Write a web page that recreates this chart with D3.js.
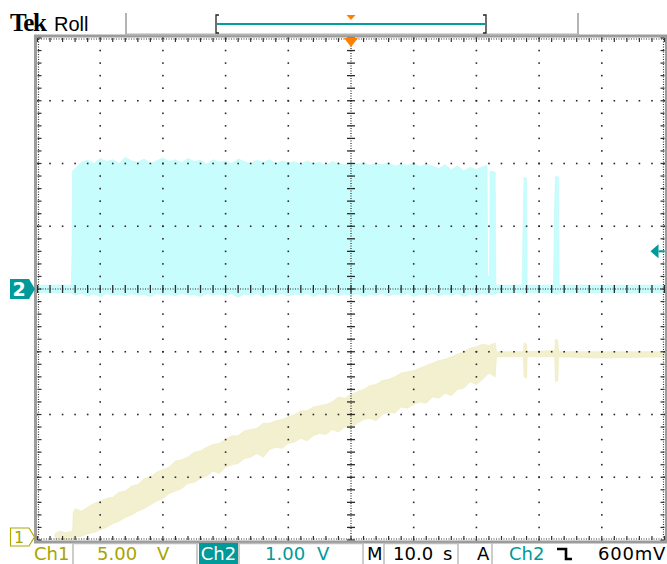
<!DOCTYPE html>
<html lang="en">
<head>
<meta charset="UTF-8">
<title>Tek Roll capture</title>
<script src="https://d3js.org/d3.v7.min.js"></script>
<style>
    body { margin: 0; background: #fff; }
    svg { display: block; }
    .status { font-family: "DejaVu Sans", sans-serif; font-size: 18px; }
</style>
</head>
<body>
<svg width="667" height="564"></svg>
<script>
// channel settings
const ch1VoltsPerDiv = 5;      // 5.00 V
const ch2VoltsPerDiv = 1;      // 1.00 V
const ch1Position = -4;        // ground marker at bottom of screen (divisions)
const ch2Position = 0;         // ground marker at centre
const timeRange = [0, 100];    // 10 divisions x 10.0 s
const triggerLevel = 0.6;      // Ch2 falling edge, 600mV
const triggerTime = 50;

// Ch1 envelope: [time s, max V, min V]
const ch1Trace = [
    [2.8, 0.5, 0.0], [3.5, 0.7, 0.0], [4.5, 0.6, 0.0], [5.6, 0.7, 0.0],
    [5.7, 2.2, 0.1], [6, 2.5, 0.2], [7, 2.3, 0.3], [8, 2.6, 0.5], [9, 2.9, 0.6],
    [10, 3.1, 0.8], [11, 3.3, 1.0], [12, 3.4, 1.3], [13, 3.8, 1.5], [14, 3.9, 1.8],
    [15, 4.3, 2.0], [16, 4.4, 2.3], [17, 4.9, 2.5], [18, 5.0, 2.8], [19, 5.4, 3.1],
    [20, 5.6, 3.3], [21, 5.8, 3.7], [22, 6.3, 3.9], [23, 6.4, 4.1], [24, 6.6, 4.5],
    [25, 7.0, 4.6], [26, 7.1, 4.9], [27, 7.4, 5.1], [28, 7.6, 5.5], [29, 7.7, 5.3],
    [30, 8.0, 5.8], [31, 8.3, 6.0], [32, 8.3, 6.1], [33, 8.7, 6.5], [34, 8.8, 6.6],
    [35, 8.9, 6.9], [36, 9.3, 6.6], [37, 9.3, 7.2], [38, 9.5, 7.4], [39, 9.6, 7.3],
    [40, 9.8, 7.7], [41, 10.0, 7.8], [42, 10.3, 8.1], [43, 10.3, 7.9], [44, 10.6, 8.3],
    [45, 10.7, 8.5], [46, 10.8, 8.4], [47, 11.0, 8.8], [48, 11.4, 8.6], [49, 11.3, 9.0],
    [50, 11.6, 8.9], [51, 11.8, 9.3], [52, 12.0, 9.6], [53, 12.3, 9.7], [54, 12.4, 9.5],
    [55, 12.7, 10.0], [56, 12.8, 10.2], [57, 13.0, 10.1], [58, 13.3, 10.6], [59, 13.4, 10.5],
    [60, 13.5, 10.8], [61, 13.7, 11.0], [62, 13.9, 10.9], [63, 14.1, 11.4], [64, 14.3, 11.3],
    [65, 14.4, 11.7], [66, 14.6, 11.5], [67, 14.8, 12.0], [68, 15.0, 12.1], [69, 15.3, 12.6],
    [70, 15.4, 12.4], [71, 15.6, 12.8], [72, 15.5, 13.3], [73, 15.7, 13.0],
    [73.2, 15.0, 14.6], [77.5, 15.0, 14.6], [77.6, 15.7, 13.0], [78.0, 15.6, 12.9],
    [78.1, 15.0, 14.6], [82.5, 15.1, 14.6], [82.6, 16.0, 12.6], [83.0, 15.9, 12.7],
    [83.1, 15.0, 14.6], [90, 15.0, 14.5], [100, 15.0, 14.6]
];

// Ch2 envelope: [time s, max V, min V]
const ch2Trace = [
    [0, 0.06, -0.06], [5.4, 0.06, -0.06], [5.5, 0.6, -0.08], [5.6, 1.88, -0.08],
    [6, 1.92, -0.1], [7, 2.02, -0.07], [8, 2.05, -0.11], [9, 2.0, -0.08], [10, 2.08, -0.12],
    [11, 2.03, -0.07], [12, 2.06, -0.1], [13, 2.0, -0.08], [14, 2.1, -0.11], [15, 2.04, -0.07],
    [16, 2.02, -0.1], [17, 2.07, -0.09], [18, 2.0, -0.12], [19, 2.04, -0.07], [20, 2.09, -0.1],
    [21, 2.03, -0.08], [22, 2.06, -0.11], [23, 2.01, -0.07], [24, 2.08, -0.1], [25, 2.03, -0.09],
    [26, 2.05, -0.12], [27, 1.99, -0.07], [28, 2.06, -0.1], [29, 2.02, -0.08], [30, 2.04, -0.11],
    [31, 2.0, -0.07], [32, 2.07, -0.13], [33, 2.03, -0.08], [34, 2.0, -0.1], [35, 2.05, -0.07],
    [36, 2.02, -0.12], [37, 2.06, -0.08], [38, 2.0, -0.1], [39, 2.04, -0.07], [40, 2.01, -0.11],
    [41, 2.03, -0.08], [42, 1.99, -0.1], [43, 2.04, -0.07], [44, 2.0, -0.12], [45, 2.02, -0.08],
    [46, 1.97, -0.1], [47, 2.03, -0.07], [48, 2.0, -0.11], [49, 1.98, -0.08], [50, 2.02, -0.1],
    [51, 1.99, -0.07], [52, 2.01, -0.12], [53, 1.97, -0.08], [54, 2.0, -0.1], [55, 1.98, -0.07],
    [56, 2.01, -0.11], [57, 1.96, -0.08], [58, 1.99, -0.1], [59, 1.97, -0.07], [60, 2.0, -0.12],
    [61, 1.95, -0.08], [62, 1.99, -0.1], [63, 1.96, -0.07], [64, 1.92, -0.11], [65, 1.98, -0.08],
    [66, 1.9, -0.1], [67, 1.96, -0.07], [68, 1.88, -0.12], [69, 1.94, -0.08], [70, 1.9, -0.1],
    [71, 1.95, -0.07], [71.7, 1.97, -0.09], [71.8, 0.2, -0.08], [72.1, 0.2, -0.08],
    [72.2, 1.88, -0.09], [73.0, 1.86, -0.08], [73.1, 0.06, -0.06], [77.3, 0.06, -0.06],
    [77.45, 1.0, -0.08], [77.6, 1.78, -0.08], [78.0, 1.76, -0.08], [78.1, 0.06, -0.06],
    [82.3, 0.06, -0.06], [82.45, 1.2, -0.08], [82.6, 1.8, -0.08], [83.1, 1.78, -0.08],
    [83.2, 0.06, -0.06], [100, 0.06, -0.06]
];

// status bar readouts
const ch1Label = ["Ch1", "5.00", "V"];
const ch2Label = ["Ch2", "1.00", "V"];
const timeLabel = ["M", "10.0", "s"];
const trigLabel = ["A", "Ch2", "600mV"];

const svg = d3.select("svg");
const L = 37.5, R = 664.5, T = 38, B = 540;

const x = d3.scaleLinear().domain(timeRange).range([L, R]);
const gx = d3.scaleLinear().domain([0, 10]).range([L, R]);
const yDiv = d3.scaleLinear().domain([-4, 4]).range([B, T]);
const y1 = v => yDiv(v / ch1VoltsPerDiv + ch1Position);
const y2 = v => yDiv(v / ch2VoltsPerDiv + ch2Position);

// traces
const area1 = d3.area().x(d => x(d[0])).y0(d => y1(d[2])).y1(d => y1(d[1]));
const area2 = d3.area().x(d => x(d[0])).y0(d => y2(d[2])).y1(d => y2(d[1]));

svg.append("path").datum(ch1Trace).attr("d", area1)
    .attr("fill", "#f3f0cf").attr("stroke", "#eeeabf").attr("stroke-width", 0.6);
svg.append("path").datum(ch2Trace).attr("d", area2)
    .attr("fill", "#c8fdfd").attr("stroke", "#bdf8f8").attr("stroke-width", 0.6);

// graticule
const grat = svg.append("g").attr("fill", "#2a2a2a");
const minorY = d3.range(0, 41).map(j => -4 + j / 5);
const minorX = d3.range(0, 51).map(i => i / 5);

[1, 2, 3, 4, 6, 7, 8, 9].forEach(k => {
    grat.selectAll(null).data(minorY).join("rect")
        .attr("x", gx(k) - 0.8).attr("y", d => yDiv(d) - 0.8)
        .attr("width", 1.6).attr("height", 1.6);
});
[-3, -2, -1, 1, 2, 3].forEach(m => {
    grat.selectAll(null).data(minorX).join("rect")
        .attr("x", d => gx(d) - 0.8).attr("y", yDiv(m) - 0.8)
        .attr("width", 1.6).attr("height", 1.6);
});

// centre cross
const cx = gx(5), cy = yDiv(0);
grat.append("line").attr("x1", L).attr("x2", R).attr("y1", cy).attr("y2", cy)
    .attr("stroke", "#2a2a2a").attr("stroke-width", 1.2).attr("stroke-dasharray", "1,1.5");
grat.append("line").attr("x1", cx).attr("x2", cx).attr("y1", T).attr("y2", B)
    .attr("stroke", "#2a2a2a").attr("stroke-width", 1.2).attr("stroke-dasharray", "1,1.5");
grat.selectAll(null).data(minorX).join("line")
    .attr("x1", d => gx(d)).attr("x2", d => gx(d)).attr("y1", cy - 4).attr("y2", cy + 4)
    .attr("stroke", "#2a2a2a").attr("stroke-width", 1.3);
grat.selectAll(null).data(minorY).join("line")
    .attr("y1", d => yDiv(d)).attr("y2", d => yDiv(d)).attr("x1", cx - 4).attr("x2", cx + 4)
    .attr("stroke", "#2a2a2a").attr("stroke-width", 1.3);

// frame with edge ticks
svg.append("rect").attr("x", L - 2).attr("y", T - 2)
    .attr("width", R - L + 4).attr("height", B - T + 4)
    .attr("fill", "none").attr("stroke", "#9c9c9c").attr("stroke-width", 3);
const edge = svg.append("g").attr("stroke", "#333").attr("stroke-width", 1.2);
[[L + 1, T + 1, R - 1, T + 1], [L + 1, B - 1, R - 1, B - 1],
 [L + 1, T + 1, L + 1, B - 1], [R - 1, T + 1, R - 1, B - 1]].forEach(s => {
    edge.append("line").attr("x1", s[0]).attr("y1", s[1]).attr("x2", s[2]).attr("y2", s[3])
        .attr("stroke-dasharray", "1,1.5");
});
edge.selectAll(null).data(minorX).join("line")
    .attr("x1", d => gx(d)).attr("x2", d => gx(d)).attr("y1", T).attr("y2", T + 4);
edge.selectAll(null).data(minorX).join("line")
    .attr("x1", d => gx(d)).attr("x2", d => gx(d)).attr("y1", B).attr("y2", B - 4);
edge.selectAll(null).data(minorY).join("line")
    .attr("y1", d => yDiv(d)).attr("y2", d => yDiv(d)).attr("x1", L).attr("x2", L + 4);
edge.selectAll(null).data(minorY).join("line")
    .attr("y1", d => yDiv(d)).attr("y2", d => yDiv(d)).attr("x1", R).attr("x2", R - 4);

// trigger position marker
const tx = x(triggerTime);
svg.append("path").attr("d", `M${tx - 7},${T}L${tx + 7},${T}L${tx},${T + 9}Z`).attr("fill", "#ff7f00");

// trigger level marker (right edge)
const ty = y2(triggerLevel);
svg.append("path").attr("d", `M${R - 14},${ty}L${R - 6},${ty - 7}L${R - 6},${ty + 7}Z`).attr("fill", "#009a9a");
svg.append("line").attr("x1", R - 6).attr("x2", R).attr("y1", ty).attr("y2", ty)
    .attr("stroke", "#009a9a").attr("stroke-width", 2);

// channel ground markers
const g2 = y2(0);
svg.append("path").attr("d", `M10,${g2 - 10}L29,${g2 - 10}L35,${g2}L29,${g2 + 10}L10,${g2 + 10}Z`)
    .attr("fill", "#009a9a");
svg.append("text").attr("x", 19).attr("y", g2 + 7).attr("text-anchor", "middle")
    .attr("font-family", "DejaVu Sans").attr("font-weight", "bold").attr("font-size", 19)
    .attr("fill", "#fff").text("2");
const g1 = Math.min(y1(0), B - 3);
svg.append("path").attr("d", `M10.5,${g1 - 9}L29,${g1 - 9}L34.5,${g1}L29,${g1 + 9}L10.5,${g1 + 9}Z`)
    .attr("fill", "#fff").attr("stroke", "#b0aa00").attr("stroke-width", 1.2);
svg.append("text").attr("x", 19).attr("y", g1 + 6).attr("text-anchor", "middle")
    .attr("font-family", "DejaVu Sans").attr("font-size", 16)
    .attr("fill", "#a8a400").text("1");

// header
svg.append("text").attr("x", 10).attr("y", 31)
    .attr("font-family", "Liberation Serif").attr("font-weight", "bold").attr("font-size", 25)
    .attr("letter-spacing", -1.2).attr("fill", "#000").text("Tek");
svg.append("text").attr("x", 54).attr("y", 31)
    .attr("font-family", "Liberation Sans").attr("font-size", 20).attr("fill", "#000").text("Roll");
svg.append("path").attr("d", "M126,13V34.5H578V13")
    .attr("fill", "none").attr("stroke", "#b4b4b4").attr("stroke-width", 2);
svg.append("path").attr("d", "M219,15H216V33H219M483,15H486V33H483")
    .attr("fill", "none").attr("stroke", "#222").attr("stroke-width", 1.3);
svg.append("line").attr("x1", 217).attr("x2", 485).attr("y1", 24).attr("y2", 24)
    .attr("stroke", "#00a0a0").attr("stroke-width", 2);
svg.append("path").attr("d", `M${tx - 4.5},15L${tx + 4.5},15L${tx},20Z`).attr("fill", "#ff7f00");

// status bar
const bar = svg.append("g").attr("class", "status");
const boxes = [[73, 197], [239, 363], [384, 458]];
boxes.forEach(b => {
    bar.append("path").attr("d", `M${b[0]},564V543.5H${b[1]}V564`)
        .attr("fill", "none").attr("stroke", "#bcbcbc").attr("stroke-width", 1.5);
});
bar.append("line").attr("x1", 492).attr("x2", 492).attr("y1", 543).attr("y2", 564)
    .attr("stroke", "#bcbcbc").attr("stroke-width", 1.5);
bar.append("rect").attr("x", 199).attr("y", 543).attr("width", 39).attr("height", 21).attr("fill", "#009a9a");

bar.append("text").attr("x", 34).attr("y", 560).attr("fill", "#a8a400").text(ch1Label[0]);
bar.append("text").attr("x", 97).attr("y", 560).attr("fill", "#a8a400")
    .text(ch1Label[1]).append("tspan").attr("x", 157).text(ch1Label[2]);
bar.append("text").attr("x", 218.5).attr("y", 560).attr("text-anchor", "middle").attr("fill", "#fff").text(ch2Label[0]);
bar.append("text").attr("x", 265).attr("y", 560).attr("fill", "#009a9a")
    .text(ch2Label[1]).append("tspan").attr("x", 317).text(ch2Label[2]);
bar.append("text").attr("x", 367).attr("y", 560).attr("fill", "#000").text(timeLabel[0]);
bar.append("text").attr("x", 393).attr("y", 560).attr("fill", "#000")
    .text(timeLabel[1]).append("tspan").attr("x", 443).text(timeLabel[2]);
bar.append("text").attr("x", 477).attr("y", 560).attr("fill", "#000").text(trigLabel[0]);
bar.append("text").attr("x", 509).attr("y", 560).attr("fill", "#009a9a").text(trigLabel[1]);
bar.append("path").attr("d", "M557,549H566V559H572")
    .attr("fill", "none").attr("stroke", "#000").attr("stroke-width", 2.6);
bar.append("text").attr("x", 598).attr("y", 560).attr("fill", "#000")
    .attr("letter-spacing", 0.8).text(trigLabel[2]);
</script>
</body>
</html>
